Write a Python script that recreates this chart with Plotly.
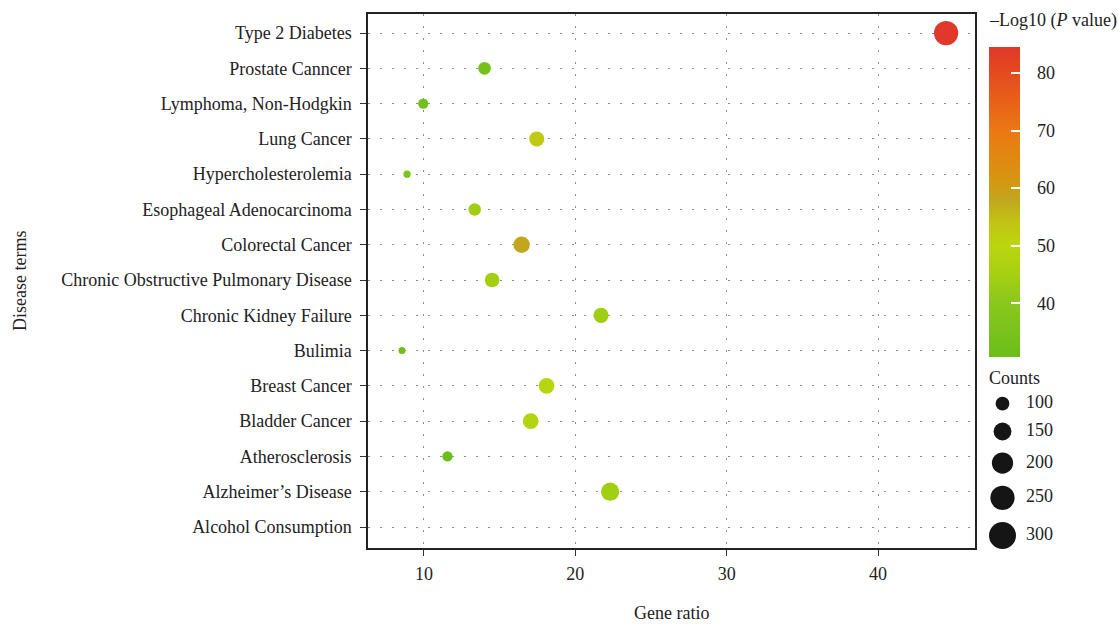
import plotly.graph_objects as go

W, H = 1118, 624

terms = ["Type 2 Diabetes", "Prostate Canncer", "Lymphoma, Non-Hodgkin", "Lung Cancer",
         "Hypercholesterolemia", "Esophageal Adenocarcinoma", "Colorectal Cancer",
         "Chronic Obstructive Pulmonary Disease", "Chronic Kidney Failure", "Bulimia",
         "Breast Cancer", "Bladder Cancer", "Atherosclerosis", "Alzheimer\u2019s Disease",
         "Alcohol Consumption"]
gene_ratio = [44.5, 14.0, 9.95, 17.45, 8.88, 13.35, 16.45, 14.5, 21.7, 8.55,
              18.1, 17.05, 11.55, 22.3, None]
neg_log_p = [84.5, 33.5, 32.5, 53.0, 36.0, 44.0, 58.0, 44.5, 44.0, 31.5,
             49.0, 48.0, 30.7, 44.5, None]
counts = [250, 88, 65, 114, 41, 86, 133, 110, 117, 39, 122, 122, 65, 156, None]

legend_counts = [100, 150, 200, 250, 300]
cbar_ticks = [40, 50, 60, 70, 80]

colorscale = [
    [0.0, "#6BBE1B"], [0.1729, "#8AC71D"], [0.2658, "#A6D012"], [0.3587, "#BBD60F"],
    [0.4331, "#C2C414"], [0.5074, "#C2A61E"], [0.5818, "#D8940F"], [0.7305, "#EB7814"],
    [0.9164, "#E54A1E"], [1.0, "#E0382A"],
]


def diam(c):
    return -4.2 + 1.8 * c ** 0.5


FONT = "Liberation Serif"
TXT = "#222222"
FS = 18

# plot area in pixels
L, R, T, B = 368, 975, 14, 548

pts = [(t, g, p, c) for t, g, p, c in zip(terms, gene_ratio, neg_log_p, counts) if g is not None]
cvals = [p[2] for p in pts]

cbar_base = dict(x=989 / W, xanchor="left", xpad=0, y=1 - 47 / H, yanchor="top",
                 ypad=0, thickness=31, lenmode="pixels", len=310, outlinewidth=0,
                 tickvals=cbar_ticks, tickfont=dict(family=FONT, size=FS, color=TXT))

fig = go.Figure()
fig.add_trace(go.Scatter(
    x=[p[1] for p in pts], y=[p[0] for p in pts], mode="markers",
    marker=dict(size=[diam(p[3]) for p in pts], color=cvals,
                colorscale=colorscale, line=dict(width=0), opacity=1,
                colorbar=dict(**cbar_base, ticks="outside", ticklen=14,
                              tickcolor="rgba(0,0,0,0)")),
    showlegend=False, hoverinfo="x+y",
))
# same colour scale again, only to draw the white tick dashes across the bar
fig.add_trace(go.Scatter(
    x=[None] * len(cvals), y=[None] * len(cvals), mode="markers",
    marker=dict(color=cvals, colorscale=colorscale, showscale=True,
                colorbar=dict(**cbar_base, ticks="inside", ticklen=9, tickcolor="white",
                              tickwidth=1.5, showticklabels=False)),
    showlegend=False, hoverinfo="skip",
))

# size legend (guide) on a pixel-scaled overlay axis
ys = []
y0 = 403.7
gap = 12
for i, c in enumerate(legend_counts):
    if i == 0:
        ys.append(y0)
    else:
        ys.append(ys[-1] + (diam(legend_counts[i - 1]) + diam(c)) / 2 + gap)
fig.add_trace(go.Scatter(
    x=[1002.5] * len(legend_counts), y=ys, mode="markers",
    marker=dict(size=[diam(c) for c in legend_counts], color="#151515", line=dict(width=0),
                opacity=1),
    xaxis="x2", yaxis="y2", showlegend=False, hoverinfo="skip"))
fig.add_trace(go.Scatter(
    x=[1026] * len(legend_counts), y=ys, mode="text", text=[str(c) for c in legend_counts],
    textposition="middle right", textfont=dict(family=FONT, size=FS, color=TXT),
    xaxis="x2", yaxis="y2", showlegend=False, hoverinfo="skip"))

gridstyle = dict(showgrid=True, gridcolor="#8c8c8c", gridwidth=1.2, griddash="2px,10px")

fig.update_layout(
    width=W, height=H, margin=dict(l=0, r=0, t=0, b=0),
    template="none", paper_bgcolor="white", plot_bgcolor="rgba(0,0,0,0)",
    font=dict(family=FONT, size=FS, color=TXT),
    xaxis=dict(domain=[L / W, R / W], range=[6.30, 46.41], tickvals=[10, 20, 30, 40],
               showline=True, linecolor="#222", linewidth=1.5, mirror=True,
               ticks="outside", ticklen=6, tickcolor="#333", tickwidth=1.3,
               ticklabelstandoff=3, zeroline=False, automargin=False,
               tickfont=dict(family=FONT, size=FS, color=TXT), **gridstyle),
    yaxis=dict(domain=[1 - B / H, 1 - T / H], type="category",
               categoryorder="array", categoryarray=list(reversed(terms)),
               range=[-0.595, 14.54],
               showline=True, linecolor="#222", linewidth=1.5, mirror=True,
               ticks="outside", ticklen=6, tickcolor="#333", tickwidth=1.3,
               ticklabelstandoff=5, zeroline=False, automargin=False,
               tickfont=dict(family=FONT, size=FS, color=TXT), **gridstyle),
    xaxis2=dict(domain=[0, 1], range=[0, W], visible=False, fixedrange=True, anchor="y2"),
    yaxis2=dict(domain=[0, 1], range=[H, 0], visible=False, fixedrange=True,
                anchor="x2"),
    annotations=[
        dict(text="Gene ratio", x=(L + R) / 2 / W, y=1 - 613 / H, xref="paper", yref="paper",
             showarrow=False, xanchor="center", yanchor="middle",
             font=dict(family=FONT, size=FS, color=TXT)),
        dict(text="Disease terms", x=20 / W, y=1 - 281 / H, xref="paper", yref="paper",
             showarrow=False, xanchor="center", yanchor="middle", textangle=-90,
             font=dict(family=FONT, size=FS, color=TXT)),
        dict(text="\u2013Log10 (<i>P</i> value)", x=987 / W, y=1 - 21 / H, xref="paper",
             yref="paper", showarrow=False, xanchor="left", yanchor="middle",
             font=dict(family=FONT, size=FS, color=TXT)),
        dict(text="Counts", x=987 / W, y=1 - 378 / H, xref="paper", yref="paper",
             showarrow=False, xanchor="left", yanchor="middle",
             font=dict(family=FONT, size=FS, color=TXT)),
    ],
)

fig.write_html("out.html")
